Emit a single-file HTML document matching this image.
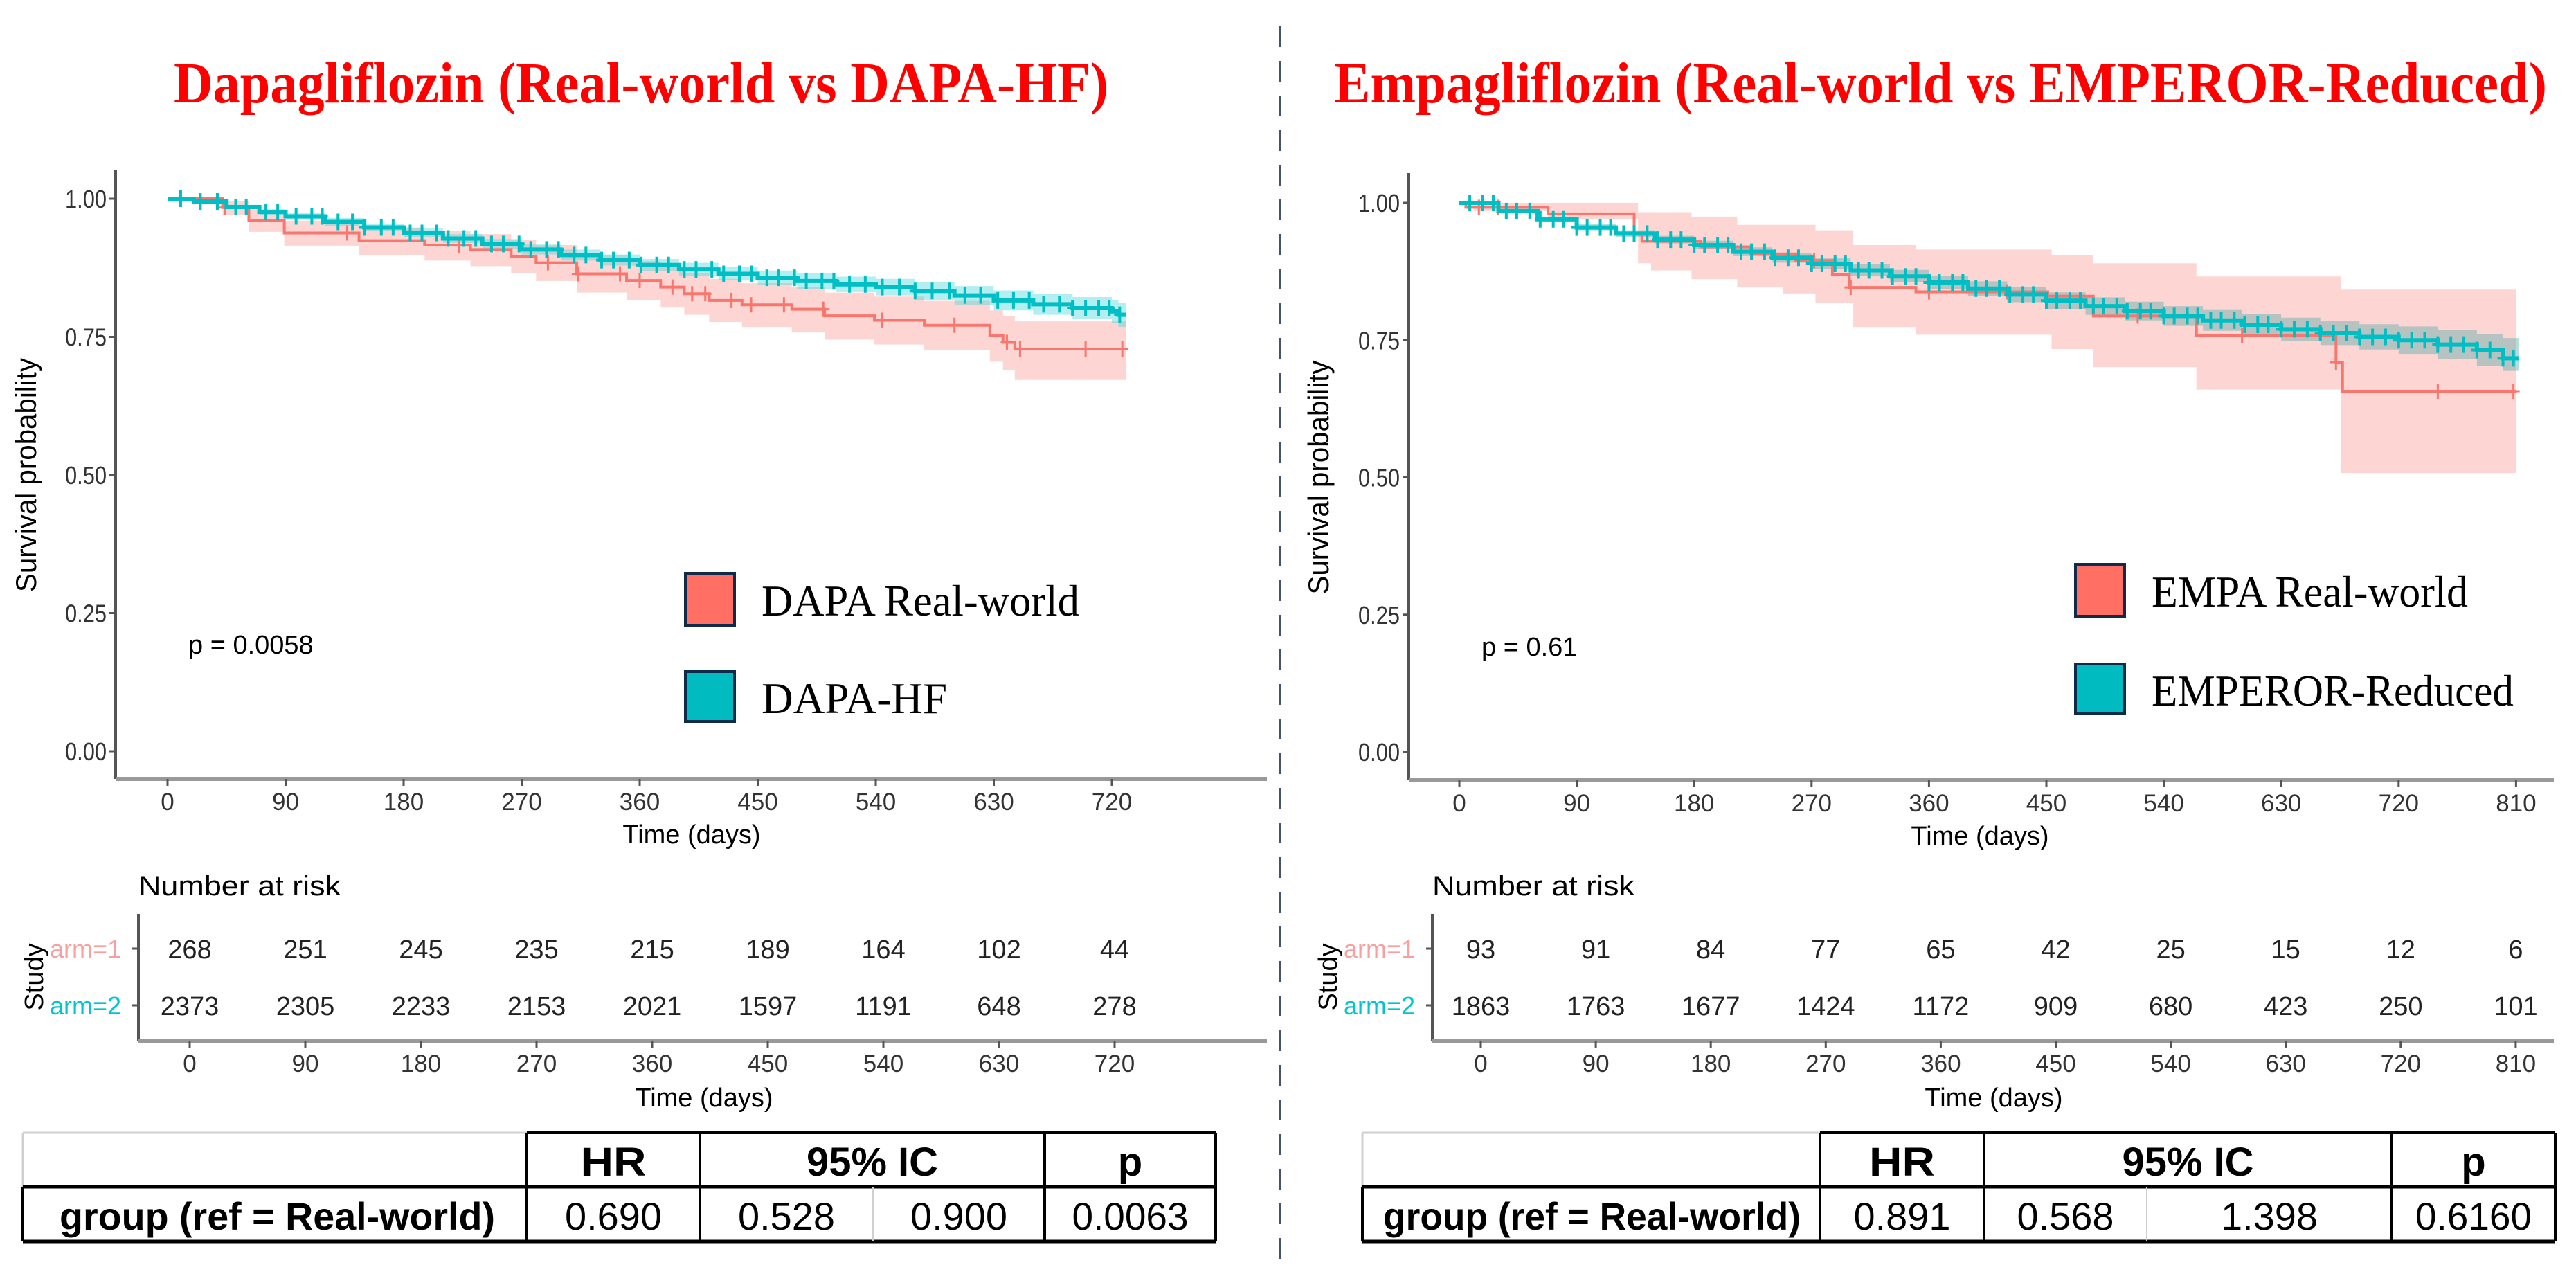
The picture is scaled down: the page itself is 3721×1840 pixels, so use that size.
<!DOCTYPE html>
<html><head><meta charset="utf-8"><style>
html,body{margin:0;padding:0;background:#fff}
svg{display:block}
text{font-family:"Liberation Sans",Arial,sans-serif}
.tt{font-family:"Liberation Serif","Times New Roman",serif}
</style></head><body>
<svg id="root" width="3721" height="1840" viewBox="0 0 3721 1840" xmlns="http://www.w3.org/2000/svg">
<rect width="3721" height="1840" fill="#fff"/>
<line x1="1849" y1="38" x2="1849" y2="1835" stroke="#44546A" stroke-width="3" stroke-dasharray="30,20"/>
<text class="tt" x="926" y="148" text-anchor="middle" font-size="84" font-weight="bold" fill="#FF0000" textLength="1350" lengthAdjust="spacingAndGlyphs">Dapagliflozin (Real-world vs DAPA-HF)</text>
<text class="tt" x="2803" y="148" text-anchor="middle" font-size="84" font-weight="bold" fill="#FF0000" textLength="1752" lengthAdjust="spacingAndGlyphs">Empagliflozin (Real-world vs EMPEROR-Reduced)</text>
<g id="left"></g>
<g id="right"></g>
</svg>
<script>
// ---------- data: left (DAPA) ----------
const dapaRwDays = [0,42,62,89,146,196,231,262,281,312,350,376,394,413,438,476,501,539,577,627,637,646];
const dapaRwSurv = [1,.984,.96,.938,.924,.916,.908,.896,.884,.864,.852,.84,.828,.816,.808,.80,.788,.78,.771,.752,.74,.728];
const dapaRwLo   = [1,.97,.94,.915,.898,.888,.878,.865,.851,.83,.816,.803,.79,.777,.768,.758,.745,.736,.726,.705,.69,.672];
const dapaRwHi   = [1,.995,.98,.96,.948,.942,.936,.926,.916,.898,.887,.876,.866,.855,.847,.84,.83,.823,.815,.798,.788,.778];
const dapaRwEnd = 731;
const dapaRwCens = [44,137,222,290,313,345,360,385,400,410,430,445,470,500,545,600,640,650,700,728];
const dapaHfDays = [0,20,45,70,90,120,150,180,210,240,270,300,330,360,390,420,450,480,510,540,570,600,630,660,690,720,725];
const dapaHfSurv = [1,.995,.985,.976,.968,.958,.948,.938,.928,.918,.908,.898,.889,.88,.872,.864,.857,.851,.845,.84,.833,.825,.816,.809,.802,.796,.79];
const dapaHfLo   = [1,.992,.981,.971,.962,.951,.941,.93,.92,.909,.899,.888,.879,.869,.86,.852,.844,.837,.831,.825,.817,.808,.798,.79,.782,.775,.768];
const dapaHfHi   = [1,.998,.989,.981,.974,.965,.955,.946,.936,.927,.917,.908,.899,.891,.884,.876,.87,.865,.859,.855,.849,.842,.834,.828,.822,.817,.812];
const dapaHfEnd = 731;
const dapaHfCens = [10,25,38,52,60,75,84,98,110,118,130,141,150,163,172,185,194,205,214,226,235,247,256,268,277,289,298,310,319,331,340,352,361,373,382,394,403,415,424,436,445,457,466,478,487,499,508,520,532,545,558,570,583,596,608,620,633,645,657,668,680,690,700,710,718,726];
const dapaXTicks = [0,90,180,270,360,450,540,630,720];
const dapaRisk1 = [268,251,245,235,215,189,164,102,44];
const dapaRisk2 = [2373,2305,2233,2153,2021,1597,1191,648,278];
const dapaHR = ["0.690","0.528","0.900","0.0063"];
// ---------- data: right (EMPA) ----------
const empaRwDays = [0,5,68,134,140,185,223,258,286,299,350,451,486,565,672,677];
const empaRwSurv = [1,.992,.98,.943,.93,.92,.907,.895,.87,.846,.838,.83,.794,.758,.71,.657];
const empaRwEnd = 810;
const empaBandDays = [0,11,68,137,147,178,213,248,273,302,350,454,486,565,676];
const empaBandHi = [1,1,1,.983,.983,.975,.96,.96,.95,.923,.915,.905,.89,.866,.842];
const empaBandLo = [1,.985,.971,.89,.877,.861,.846,.835,.818,.774,.76,.734,.701,.66,.508];
const empaRwCens = [15,30,272,300,360,420,520,600,672,750,808];
const empaTrDays = [0,30,60,90,120,150,180,210,240,270,300,330,360,390,420,450,480,510,540,570,600,630,660,690,720,750,780,800];
const empaTrSurv = [1,.985,.97,.955,.944,.933,.923,.911,.9,.889,.877,.866,.855,.844,.833,.822,.812,.803,.794,.786,.778,.77,.763,.756,.75,.742,.732,.717];
const empaTrLo   = [1,.982,.966,.95,.938,.926,.916,.903,.891,.879,.867,.855,.843,.831,.819,.807,.796,.786,.776,.767,.758,.749,.741,.733,.725,.715,.703,.694];
const empaTrHi   = [1,.989,.975,.961,.95,.94,.931,.919,.909,.899,.888,.878,.867,.857,.847,.837,.828,.82,.812,.805,.798,.791,.785,.779,.775,.769,.761,.754];
const empaTrEnd = 812;
const empaTrCens = [8,18,26,36,44,54,62,72,80,90,98,108,116,126,134,144,152,162,170,180,188,198,206,216,224,234,242,252,260,270,278,288,296,306,314,324,332,342,350,360,368,378,386,396,404,414,422,432,440,450,458,468,476,486,494,504,512,522,530,540,548,558,566,576,584,594,602,612,620,630,640,650,660,670,680,690,700,710,720,730,740,750,760,770,780,790,800,808];
const empaXTicks = [0,90,180,270,360,450,540,630,720,810];
const empaRisk1 = [93,91,84,77,65,42,25,15,12,6];
const empaRisk2 = [1863,1763,1677,1424,1172,909,680,423,250,101];
const empaHR = ["0.891","0.568","1.398","0.6160"];
const yTicks = [0,0.25,0.5,0.75,1];
const yTickLabels = ["0.00","0.25","0.50","0.75","1.00"];

const NS = "http://www.w3.org/2000/svg";
function mk(parent, tag, attrs, txt){
  const e = document.createElementNS(NS, tag);
  for (const k in attrs) e.setAttribute(k, attrs[k]);
  if (txt !== undefined) e.textContent = txt;
  parent.appendChild(e);
  return e;
}
function stepPath(days, surv, end, X, Y){
  let d = "M"+X(days[0])+","+Y(surv[0]);
  for (let i=1;i<days.length;i++){ d += " H"+X(days[i])+" V"+Y(surv[i]); }
  d += " H"+X(end);
  return d;
}
function bandPath(days, lo, hi, end, X, Y){
  let d = "M"+X(days[0])+","+Y(hi[0]);
  for (let i=1;i<days.length;i++){ d += " H"+X(days[i])+" V"+Y(hi[i]); }
  d += " H"+X(end)+" V"+Y(lo[lo.length-1]);
  for (let i=days.length-1;i>=1;i--){ d += " H"+X(days[i])+" V"+Y(lo[i-1]); }
  d += " H"+X(days[0])+" Z";
  return d;
}
function survAt(days, surv, t){
  let s = surv[0];
  for (let i=0;i<days.length;i++){ if (days[i] <= t) s = surv[i]; }
  return s;
}

function drawPanel(g, c){
  const X = d => c.x0 + (d - 0)/90*c.px90;
  const Y = s => c.y0 - s*(c.y0 - c.y1);
  // axes
  let e;
  e = mk(g,"line",{x1:c.ax,y1:c.axTop,x2:c.ax,y2:c.axB,stroke:"#555","stroke-width":4});
  
  
  e = mk(g,"line",{x1:c.ax,y1:c.axB,x2:c.axR,y2:c.axB,stroke:"#999","stroke-width":6});
  
  
  yTicks.forEach((v,i)=>{
    mk(g,"line",{x1:c.ax-9,y1:Y(v),x2:c.ax,y2:Y(v),stroke:"#555","stroke-width":3});
    e = mk(g,"text",{x:c.ax-13,y:Y(v)+13,"text-anchor":"end","font-size":36,fill:"#333",textLength:60,lengthAdjust:"spacingAndGlyphs"}, yTickLabels[i]);
    
    
  });
  c.ticks.forEach(t=>{
    mk(g,"line",{x1:X(t),y1:c.axB,x2:X(t),y2:c.axB+10,stroke:"#555","stroke-width":3});
    e = mk(g,"text",{x:X(t),y:c.axB+45,"text-anchor":"middle","font-size":35,fill:"#333"}, String(t));
    
    
  });
  e = mk(g,"text",{x:c.xTitleX,y:c.axB+93,"text-anchor":"middle","font-size":38,fill:"#000"},"Time (days)");
  
  
  e = mk(g,"text",{x:0,y:0,"text-anchor":"middle","font-size":42,fill:"#000",textLength:338,lengthAdjust:"spacingAndGlyphs",transform:"translate("+(c.yTitleX)+","+((Y(0)+Y(1))/2)+") rotate(-90)"},"Survival probability");
  
  
  // bands
  e = mk(g,"path",{d:bandPath(c.rwBandDays,c.rwLo,c.rwHi,c.rwEnd,X,Y),fill:"#F8766D","fill-opacity":0.3});
  
  
  e = mk(g,"path",{d:bandPath(c.trDays,c.trLo,c.trHi,c.trEnd,X,Y),fill:c.trBandColor,"fill-opacity":0.4});
  
  
  // curves
  e = mk(g,"path",{d:stepPath(c.rwDays,c.rwSurv,c.rwEnd,X,Y),fill:"none",stroke:"#F8766D","stroke-width":4});
  
  
  c.rwCens.forEach(t=>{
    const s = survAt(c.rwDays,c.rwSurv,t);
    e = mk(g,"path",{d:"M"+(X(t)-9)+","+Y(s)+" h18 M"+X(t)+","+(Y(s)-11)+" v22",stroke:"#F8766D","stroke-width":3});
    
    
  });
  e = mk(g,"path",{d:stepPath(c.trDays,c.trSurv,c.trEnd,X,Y),fill:"none",stroke:"#00BFC4","stroke-width":6});
  
  
  c.trCens.forEach(t=>{
    const s = survAt(c.trDays,c.trSurv,t);
    e = mk(g,"path",{d:"M"+(X(t)-8)+","+Y(s)+" h16 M"+X(t)+","+(Y(s)-12)+" v24",stroke:"#00BFC4","stroke-width":4});
    
    
  });
  // p value
  e = mk(g,"text",{x:c.pX,y:c.pY,"font-size":38,fill:"#000"},c.pText);
  
  
  // legend
  e = mk(g,"rect",{x:c.lgX,y:c.lgY1,width:71,height:75,fill:"#FF6F63",stroke:"#0F2A4A","stroke-width":4});
  
  
  e = mk(g,"text",{x:c.lgX+110,y:c.lgY1+61,"font-size":64,fill:"#000","class":"tt",textLength:c.lgW1,lengthAdjust:"spacingAndGlyphs"},c.lg1);
  
  
  e = mk(g,"rect",{x:c.lgX,y:c.lgY2,width:71,height:72,fill:"#00BCC0",stroke:"#0F2A4A","stroke-width":4});
  
  
  e = mk(g,"text",{x:c.lgX+110,y:c.lgY2+60,"font-size":64,fill:"#000","class":"tt",textLength:c.lgW2,lengthAdjust:"spacingAndGlyphs"},c.lg2);
  
  

  // risk table
  const RX = d => c.rx0 + d/90*c.rpx90;
  e = mk(g,"text",{x:c.rax,y:1293,"font-size":40,fill:"#000",textLength:292,lengthAdjust:"spacingAndGlyphs"},"Number at risk");
  
  
  mk(g,"line",{x1:c.rax,y1:1320,x2:c.rax,y2:1503,stroke:"#555","stroke-width":4});
  mk(g,"line",{x1:c.rax,y1:1503,x2:c.axR,y2:1503,stroke:"#999","stroke-width":6});
  [[1370,"arm=1","#F8A0A0",c.risk1],[1452,"arm=2","#00C5CC",c.risk2]].forEach(r=>{
    mk(g,"line",{x1:c.rax-9,y1:r[0],x2:c.rax,y2:r[0],stroke:"#555","stroke-width":3});
    e = mk(g,"text",{x:c.rax-25,y:r[0]+13,"text-anchor":"end","font-size":36,fill:r[2]},r[1]);
    
    
    c.ticks.forEach((t,i)=>{
      e = mk(g,"text",{x:RX(t),y:r[0]+14,"text-anchor":"middle","font-size":38,fill:"#222"},String(r[3][i]));
      
      
    });
  });
  e = mk(g,"text",{x:0,y:0,"text-anchor":"middle","font-size":38,fill:"#000",transform:"translate("+(c.rax-138)+",1411) rotate(-90)"},"Study");
  
  
  c.ticks.forEach(t=>{
    mk(g,"line",{x1:RX(t),y1:1503,x2:RX(t),y2:1513,stroke:"#555","stroke-width":3});
    e = mk(g,"text",{x:RX(t),y:1548,"text-anchor":"middle","font-size":35,fill:"#333"},String(t));
    
    
  });
  e = mk(g,"text",{x:c.rTitleX,y:1598,"text-anchor":"middle","font-size":38,fill:"#000"},"Time (days)");
  
  

  // HR table
  const T = c.tb;
  const top=1636, mid=1714, bot=1793;
  mk(g,"line",{x1:T[0],y1:top,x2:T[1],y2:top,stroke:"#d0d0d0","stroke-width":3});
  mk(g,"line",{x1:T[0],y1:top,x2:T[0],y2:mid,stroke:"#d0d0d0","stroke-width":3});
  mk(g,"line",{x1:T[1],y1:top,x2:T[5],y2:top,stroke:"#000","stroke-width":4});
  mk(g,"line",{x1:T[0],y1:mid,x2:T[5],y2:mid,stroke:"#000","stroke-width":5});
  mk(g,"line",{x1:T[0],y1:bot,x2:T[5],y2:bot,stroke:"#000","stroke-width":5});
  mk(g,"line",{x1:T[0],y1:mid,x2:T[0],y2:bot,stroke:"#000","stroke-width":4});
  [1,2,4,5].forEach(i=>mk(g,"line",{x1:T[i],y1:top,x2:T[i],y2:bot,stroke:"#000","stroke-width":4}));
  mk(g,"line",{x1:T[3],y1:mid,x2:T[3],y2:bot,stroke:"#d0d0d0","stroke-width":2});
  const hdr=[["HR",(T[1]+T[2])/2,95],["95% IC",(T[2]+T[4])/2,190],["p",(T[4]+T[5])/2,0]];
  hdr.forEach(h=>{
    const a={x:h[1],y:1698,"text-anchor":"middle","font-size":58,"font-weight":"bold",fill:"#000"};
    if(h[2]){a.textLength=h[2];a.lengthAdjust="spacingAndGlyphs";}
    e = mk(g,"text",a,h[0]);
    
    
  });
  e = mk(g,"text",{x:c.tbLabelX,y:1776,"font-size":56,"font-weight":"bold",fill:"#000",textLength:c.tbLabelW,lengthAdjust:"spacingAndGlyphs"},"group (ref = Real-world)");
  
  
  const cx=[(T[1]+T[2])/2,(T[2]+T[3])/2,(T[3]+T[4])/2,(T[4]+T[5])/2];
  c.hr.forEach((v,i)=>{
    e = mk(g,"text",{x:cx[i],y:1776,"text-anchor":"middle","font-size":56,fill:"#000",textLength:v.length*28,lengthAdjust:"spacingAndGlyphs"},v);
    
    
  });
}

drawPanel(document.getElementById('left'),{
  x0:242,px90:170.5,y0:1085,y1:287,ax:167,axTop:246,axB:1125,axR:1830,
  ticks:dapaXTicks,xTitleX:999,yTitleX:52,
  rwDays:dapaRwDays,rwSurv:dapaRwSurv,rwEnd:dapaRwEnd,rwBandDays:dapaRwDays,rwLo:dapaRwLo,rwHi:dapaRwHi,rwCens:dapaRwCens,
  trDays:dapaHfDays,trSurv:dapaHfSurv,trLo:dapaHfLo,trHi:dapaHfHi,trEnd:dapaHfEnd,trCens:dapaHfCens,trBandColor:"#40D8DC",
  pX:272,pY:944,pText:"p = 0.0058",
  lgX:990,lgY1:828,lgY2:970,lg1:"DAPA Real-world",lg2:"DAPA-HF",lgW1:459,lgW2:268,
  rx0:274,rpx90:167,rax:200,rTitleX:1017,risk1:dapaRisk1,risk2:dapaRisk2,
  tb:[33,761,1011,1261,1509,1756],tbLabelX:86,tbLabelW:629,hr:dapaHR
});
drawPanel(document.getElementById('right'),{
  x0:2108,px90:169.6,y0:1086,y1:293,ax:2035,axTop:250,axB:1127,axR:3689,
  ticks:empaXTicks,xTitleX:2860,yTitleX:1919,
  rwDays:empaRwDays,rwSurv:empaRwSurv,rwEnd:empaRwEnd,rwBandDays:empaBandDays,rwLo:empaBandLo,rwHi:empaBandHi,rwCens:empaRwCens,
  trDays:empaTrDays,trSurv:empaTrSurv,trLo:empaTrLo,trHi:empaTrHi,trEnd:empaTrEnd,trCens:empaTrCens,trBandColor:"#4AA8A8",
  pX:2140,pY:947,pText:"p = 0.61",
  lgX:2998,lgY1:815,lgY2:959,lg1:"EMPA Real-world",lg2:"EMPEROR-Reduced",lgW1:457,lgW2:523,
  rx0:2139,rpx90:166.1,rax:2069,rTitleX:2880,risk1:empaRisk1,risk2:empaRisk2,
  tb:[1968,2629,2866,3101,3455,3691],tbLabelX:1998,tbLabelW:603,hr:empaHR
});
</script>
</body></html>
